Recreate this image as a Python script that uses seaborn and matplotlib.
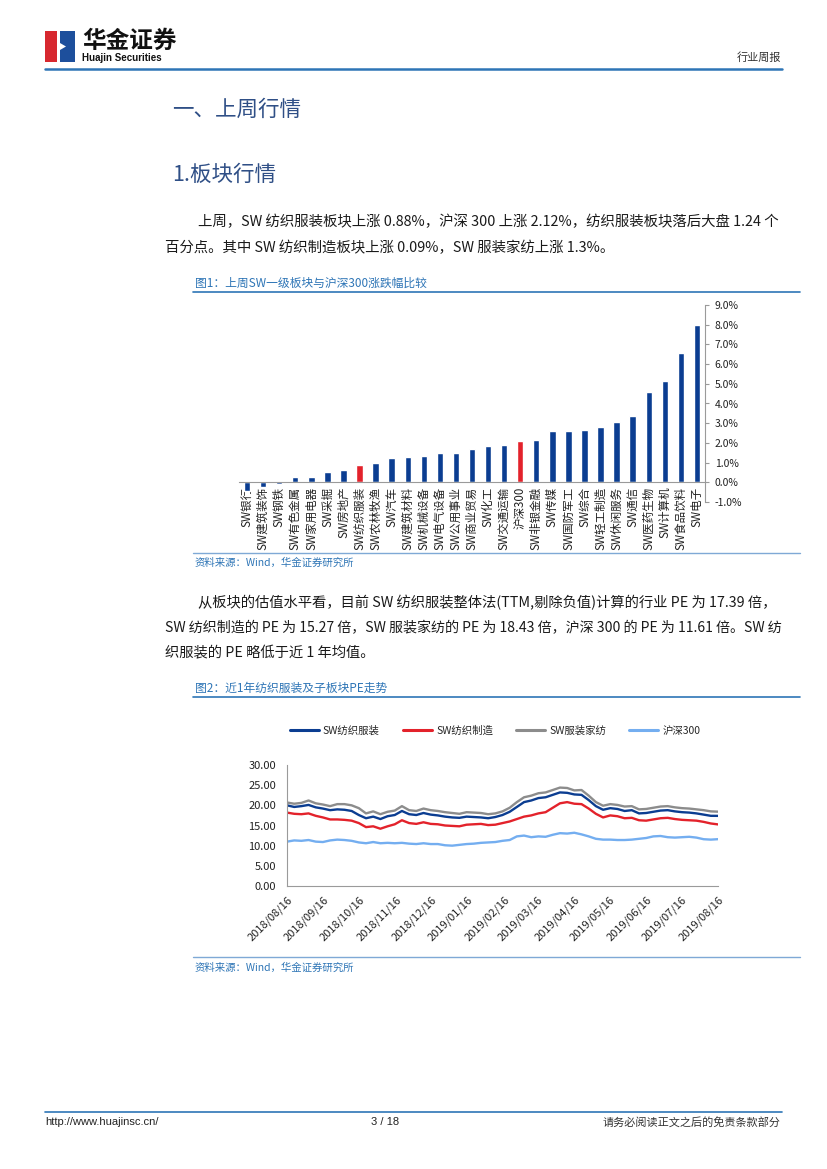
import matplotlib
matplotlib.use("Agg")
import matplotlib.pyplot as plt
from matplotlib.patches import Rectangle, Polygon
from matplotlib.ticker import FuncFormatter, FixedLocator
import numpy as np
import pandas as pd
import seaborn as sns

# ---- figure 1 data: weekly change of SW sectors (%) ----
sectors = ["SW银行", "SW建筑装饰", "SW钢铁", "SW有色金属", "SW家用电器", "SW采掘",
           "SW房地产", "SW纺织服装", "SW农林牧渔", "SW汽车", "SW建筑材料", "SW机械设备",
           "SW电气设备", "SW公用事业", "SW商业贸易", "SW化工", "SW交通运输", "沪深300",
           "SW非银金融", "SW传媒", "SW国防军工", "SW综合", "SW轻工制造", "SW休闲服务",
           "SW通信", "SW医药生物", "SW计算机", "SW食品饮料", "SW电子"]
changes = [-0.45, -0.22, -0.08, 0.25, 0.27, 0.54, 0.63, 0.88, 0.97, 1.22, 1.27, 1.34,
           1.49, 1.51, 1.68, 1.83, 1.90, 2.12, 2.14, 2.58, 2.61, 2.68, 2.80, 3.06,
           3.36, 4.58, 5.14, 6.54, 8.00]
highlight = ["SW纺织服装", "沪深300"]
bar_ticks = [-1, 0, 1, 2, 3, 4, 5, 6, 7, 8, 9]

# ---- figure 2 data: PE (TTM) over the last year ----
pe_textile_apparel = [20.0, 19.6, 19.8, 20.1, 19.5, 19.2, 18.8, 19.0, 18.9, 18.6, 17.6, 16.8,
                      17.2, 16.6, 17.3, 17.6, 18.6, 17.8, 17.6, 18.1, 17.7, 17.5, 17.2, 17.0,
                      16.9, 17.2, 17.1, 17.0, 16.8, 17.1, 17.6, 18.4, 19.6, 20.8, 21.2, 21.8,
                      22.0, 22.6, 23.2, 23.1, 22.7, 22.6, 21.3, 19.8, 18.9, 19.3, 19.1, 18.6,
                      18.8, 18.0, 18.1, 18.4, 18.7, 18.8, 18.5, 18.3, 18.2, 18.0, 17.7, 17.4, 17.39]
pe_textile_mfg = [18.2, 17.9, 17.8, 18.0, 17.4, 17.0, 16.5, 16.5, 16.4, 16.2, 15.6, 14.6,
                  14.8, 14.2, 14.8, 15.3, 16.3, 15.6, 15.4, 15.8, 15.4, 15.3, 15.0, 14.9,
                  14.8, 15.2, 15.3, 15.4, 15.1, 15.2, 15.6, 16.0, 16.6, 17.2, 17.5, 18.0,
                  18.3, 19.4, 20.5, 20.8, 20.4, 20.3, 19.2, 17.9, 17.0, 17.5, 17.3, 16.8,
                  16.9, 16.3, 16.2, 16.5, 16.8, 16.9, 16.6, 16.4, 16.3, 16.2, 15.9, 15.5, 15.27]
pe_apparel_home = [20.7, 20.4, 20.6, 21.2, 20.5, 20.2, 19.8, 20.3, 20.3, 20.0, 19.3, 18.0,
                   18.5, 17.8, 18.4, 18.7, 19.8, 18.8, 18.6, 19.2, 18.8, 18.6, 18.3, 18.1,
                   17.9, 18.3, 18.2, 18.1, 17.8, 18.0, 18.5, 19.4, 20.8, 22.0, 22.4, 23.0,
                   23.2, 23.8, 24.4, 24.3, 23.7, 23.8, 22.4, 20.8, 19.9, 20.3, 20.1, 19.7,
                   19.8, 19.0, 19.1, 19.4, 19.7, 19.8, 19.5, 19.3, 19.2, 19.0, 18.8, 18.5, 18.43]
pe_hs300 = [11.0, 11.3, 11.2, 11.4, 11.0, 10.9, 11.3, 11.5, 11.4, 11.2, 10.8, 10.6,
            10.9, 10.6, 10.7, 10.6, 10.7, 10.5, 10.4, 10.6, 10.4, 10.4, 10.1, 10.0,
            10.2, 10.4, 10.5, 10.7, 10.8, 10.9, 11.2, 11.4, 12.3, 12.5, 12.1, 12.3,
            12.2, 12.7, 13.1, 13.0, 13.2, 12.8, 12.3, 11.7, 11.5, 11.5, 11.4, 11.4,
            11.5, 11.7, 11.9, 12.3, 12.4, 12.1, 12.0, 12.1, 12.2, 12.0, 11.6, 11.5, 11.61]
series_names = ["SW纺织服装", "SW纺织制造", "SW服装家纺", "沪深300"]
series_values = [pe_textile_apparel, pe_textile_mfg, pe_apparel_home, pe_hs300]
series_colors = ["#0b3d91", "#e3222b", "#8c8c8c", "#74aef0"]
start_date, end_date = "2018-08-16", "2019-08-16"

W, H = 827, 1169
BLUE = "#2e75b6"

sns.set_theme(style="white")
plt.rcParams['font.family'] = ['Noto Sans CJK SC', 'DejaVu Sans']
plt.rcParams['axes.unicode_minus'] = False

fig = plt.figure(figsize=(W / 100, H / 100), dpi=100)
fig.patch.set_facecolor("white")

# page overlay in pixel coordinates
page = fig.add_axes([0, 0, 1, 1], zorder=0)
page.set_xlim(0, W)
page.set_ylim(H, 0)
page.axis("off")

# header logo
page.add_patch(Rectangle((45, 31), 15, 31, color="#d7282f", lw=0))
page.add_patch(Rectangle((60, 31), 15, 31, color="#1d4f9c", lw=0))
page.add_patch(Polygon([(57, 31), (60, 31), (60, 43), (66, 46.5), (60, 50), (60, 62), (57, 62)],
                       closed=True, color="white", lw=0))
page.text(82, 41, "华金证券", fontsize=17, fontweight="bold", color="#111111", va="center")
page.text(82, 58, "Huajin Securities", fontsize=7, fontweight="bold", color="#111111",
          va="center", family=["Liberation Sans", "DejaVu Sans"])
page.text(781, 58, "行业周报", fontsize=8, color="#333333", ha="right", va="center")
page.plot([45, 782], [69, 69], color=BLUE, lw=1.8)

# headings and body
head_col = "#2f4f86"
page.text(172, 110, "一、上周行情", fontsize=15.5, color=head_col, va="center")
page.text(172, 175, "1.板块行情", fontsize=15.5, color=head_col, va="center")

body_col = "#1a1a1a"
page.text(198, 222, "上周，SW 纺织服装板块上涨 0.88%，沪深 300 上涨 2.12%，纺织服装板块落后大盘 1.24 个",
          fontsize=10.4, color=body_col, va="center")
page.text(165, 248, "百分点。其中 SW 纺织制造板块上涨 0.09%，SW 服装家纺上涨 1.3%。",
          fontsize=10.4, color=body_col, va="center")

page.text(195, 283, "图1：上周SW一级板块与沪深300涨跌幅比较", fontsize=8.5, color=BLUE, va="center")
page.plot([193, 800], [292, 292], color=BLUE, lw=1.2)
page.plot([193, 800], [553, 553], color="#7fa9d6", lw=1.0)
page.text(195, 563, "资料来源：Wind，华金证券研究所", fontsize=7.5, color=BLUE, va="center",
          style="italic")

page.text(198, 603, "从板块的估值水平看，目前 SW 纺织服装整体法(TTM,剔除负值)计算的行业 PE 为 17.39 倍，",
          fontsize=10.3, color=body_col, va="center")
page.text(165, 628, "SW 纺织制造的 PE 为 15.27 倍，SW 服装家纺的 PE 为 18.43 倍，沪深 300 的 PE 为 11.61 倍。SW 纺",
          fontsize=10.1, color=body_col, va="center")
page.text(165, 653, "织服装的 PE 略低于近 1 年均值。", fontsize=10.3, color=body_col, va="center")

page.text(195, 688, "图2：近1年纺织服装及子板块PE走势", fontsize=8.5, color=BLUE, va="center")
page.plot([193, 800], [697, 697], color=BLUE, lw=1.2)
page.plot([193, 800], [957, 957], color="#7fa9d6", lw=1.0)
page.text(195, 968, "资料来源：Wind，华金证券研究所", fontsize=7.5, color=BLUE, va="center",
          style="italic")

# footer
page.plot([45, 782], [1112, 1112], color=BLUE, lw=1.2)
page.text(45, 1122, "http://www.huajinsc.cn/", fontsize=8, color="#222222", va="center",
          family=["Liberation Sans", "DejaVu Sans"])
page.text(385, 1122, "3 / 18", fontsize=8, color="#222222", va="center", ha="center",
          family=["Liberation Sans", "DejaVu Sans"])
page.text(781, 1122, "请务必阅读正文之后的免责条款部分", fontsize=8, color="#333333",
          va="center", ha="right")


def px_axes(left, top, right, bottom):
    return fig.add_axes([left / W, 1 - bottom / H, (right - left) / W, (bottom - top) / H], zorder=2)


# ---- figure 1: bar chart ----
ax1 = px_axes(239, 305, 705, 502)
ax1.patch.set_alpha(0)
bar_colors = ["#e3222b" if s in highlight else "#0b3d91" for s in sectors]
sns.barplot(x=sectors, y=changes, hue=sectors, palette=bar_colors, legend=False,
            width=0.4, saturation=1, ax=ax1)
ax1.set_xlim(-0.5, len(sectors) - 0.5)
ax1.set_ylim(-1, 9)
ax1.set_xlabel("")
ax1.set_ylabel("")
ax1.yaxis.tick_right()
ax1.set_yticks(bar_ticks)
ax1.yaxis.set_major_formatter(FuncFormatter(lambda v, p: f"{v:.1f}%"))
ax1.tick_params(axis="y", labelsize=7.5, colors="#222222", length=3, width=0.8,
                direction="out", color="#9a9a9a", pad=4)
for side in ["left", "top"]:
    ax1.spines[side].set_visible(False)
ax1.spines["right"].set_color("#9a9a9a")
ax1.spines["right"].set_linewidth(0.8)
ax1.spines["bottom"].set_position(("data", 0))
ax1.spines["bottom"].set_color("#9a9a9a")
ax1.spines["bottom"].set_linewidth(0.8)
ax1.set_xticks(range(len(sectors)))
ax1.set_xticklabels(sectors, rotation=90, fontsize=8.3, color="#222222")
ax1.xaxis.set_minor_locator(FixedLocator(np.arange(-0.5, len(sectors), 1.0)))
ax1.tick_params(axis="x", which="major", length=0, pad=3)
ax1.tick_params(axis="x", which="minor", length=3, width=0.8, color="#9a9a9a", direction="out")

# ---- figure 2: PE lines ----
ax2 = px_axes(287, 765, 718, 886)
ax2.patch.set_alpha(0)
dates = pd.date_range(start_date, end_date, periods=len(pe_textile_apparel))
for name, vals, col in zip(series_names, series_values, series_colors):
    sns.lineplot(x=dates, y=vals, color=col, lw=1.7, label=name, ax=ax2)
ax2.set_xlim(pd.Timestamp(start_date), pd.Timestamp(end_date))
ax2.set_ylim(0, 30)
ax2.set_yticks([0, 5, 10, 15, 20, 25, 30])
ax2.yaxis.set_major_formatter(FuncFormatter(lambda v, p: f"{v:.2f}"))
month_ticks = pd.date_range(start_date, periods=13, freq=pd.DateOffset(months=1))
ax2.set_xticks(month_ticks)
ax2.set_xticklabels([d.strftime("%Y/%m/%d") for d in month_ticks], rotation=45,
                    ha="right", rotation_mode="anchor", fontsize=8, color="#222222")
ax2.tick_params(axis="y", labelsize=8, colors="#222222", length=3, width=0.8,
                color="#9a9a9a", direction="out", pad=5)
ax2.tick_params(axis="x", length=3, width=0.8, color="#9a9a9a", direction="out", pad=3)
for side in ["right", "top"]:
    ax2.spines[side].set_visible(False)
for side in ["left", "bottom"]:
    ax2.spines[side].set_color("#9a9a9a")
    ax2.spines[side].set_linewidth(0.8)
ax2.set_xlabel("")
ax2.set_ylabel("")
ax2.legend(loc="center", bbox_to_anchor=(495 / W, 1 - 731 / H), bbox_transform=fig.transFigure,
           ncol=4, frameon=False, fontsize=7.5, handlelength=2.8, columnspacing=2.2,
           handletextpad=0.4)
for line in ax2.get_legend().get_lines():
    line.set_linewidth(2.2)

fig.savefig("out.png", dpi=100, facecolor="white")
